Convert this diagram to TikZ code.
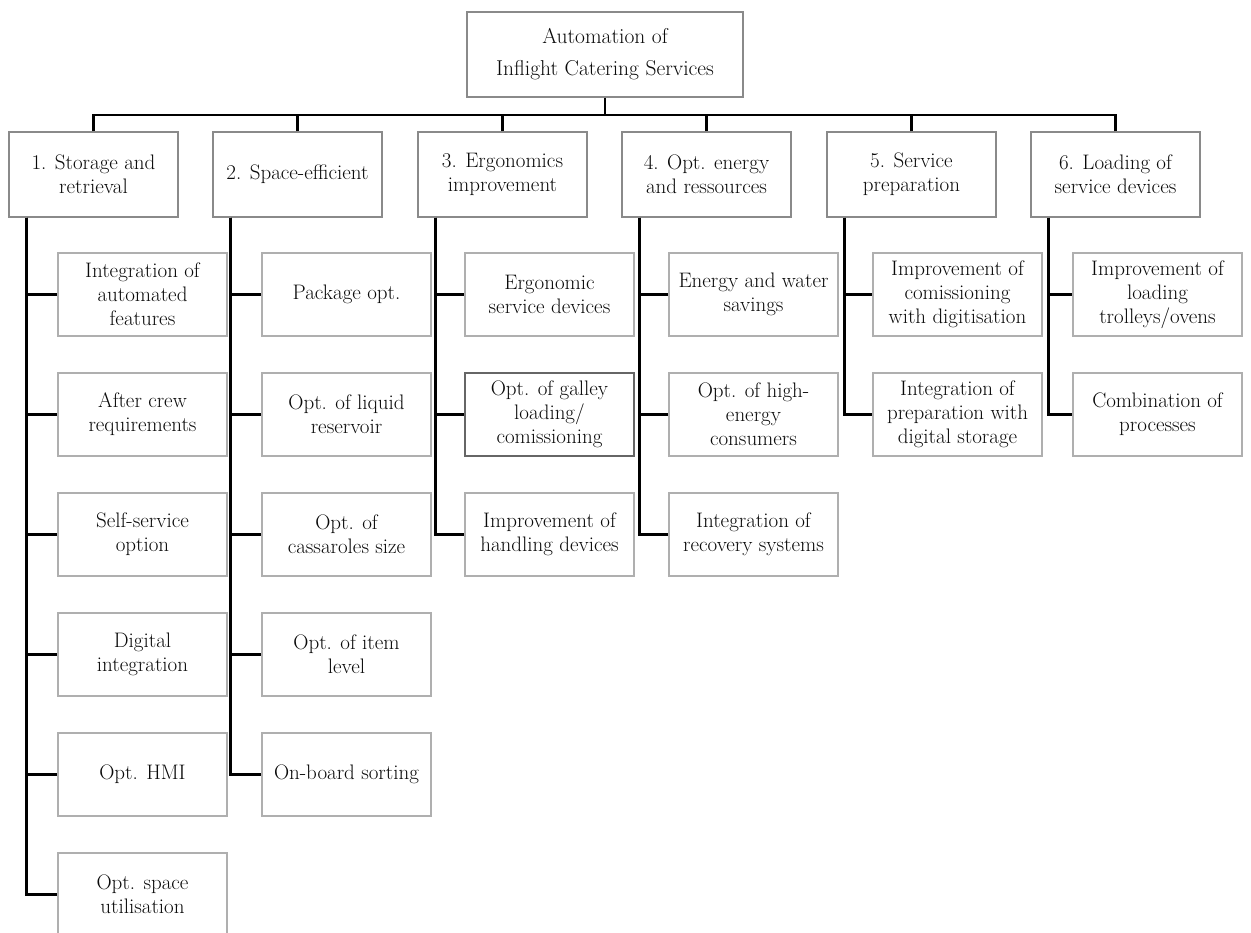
\documentclass[tikz,border=0pt]{standalone}
\usetikzlibrary{calc}
\definecolor{frameA}{HTML}{8A8A8A}
\definecolor{frameB}{HTML}{AFAFAF}
\definecolor{frameC}{HTML}{666666}
\definecolor{ink}{HTML}{0A0A0A}
\begin{document}
\begin{tikzpicture}[x=1pt,y=-1pt,
  every node/.style={text=ink, align=center, inner sep=1pt},
  rootbox/.style={draw=frameA, line width=1.1pt, minimum width=276pt, minimum height=85pt,
    font=\fontsize{21.5}{32}\selectfont},
  headbox/.style={draw=frameA, line width=1.1pt, minimum width=169pt, minimum height=85pt,
    font=\fontsize{21}{24}\selectfont},
  leafbox/.style={draw=frameB, line width=2.6pt, minimum width=169pt, minimum height=83pt,
    font=\fontsize{21}{24}\selectfont},
  darkleaf/.style={leafbox, draw=frameC, line width=1.6pt},
  link/.style={draw=black, line width=2.2pt}]
\clip (0,0) rectangle (1251,933);

% root
\node[rootbox] (root) at (605,54.5) {Automation of\\Inflight Catering Services};
\coordinate (bar) at (605,115);

% first level
\node[headbox] (h1) at (93.5,174.5)  {1. Storage and\\retrieval};
\node[headbox] (h2) at (297.5,174.5) {2. Space-efficient};
\node[headbox] (h3) at (502.5,174.5) {3. Ergonomics\\improvement};
\node[headbox] (h4) at (706.5,174.5) {4. Opt. energy\\and ressources};
\node[headbox] (h5) at (911.5,174.5) {5. Service\\preparation};
\node[headbox] (h6) at (1115.5,174.5){6. Loading of\\service devices};

% column 1
\node[leafbox] (a1) at (142.5,294.5) {Integration of\\automated\\features};
\node[leafbox] (a2) at (142.5,414.5) {After crew\\requirements};
\node[leafbox] (a3) at (142.5,534.5) {Self-service\\option};
\node[leafbox] (a4) at (142.5,654.5) {Digital\\integration};
\node[leafbox] (a5) at (142.5,774.5) {Opt. HMI};
\node[leafbox] (a6) at (142.5,894.5) {Opt. space\\utilisation};

% column 2
\node[leafbox] (b1) at (346.5,294.5) {Package opt.};
\node[leafbox] (b2) at (346.5,414.5) {Opt. of liquid\\reservoir};
\node[leafbox] (b3) at (346.5,534.5) {Opt. of\\cassaroles size};
\node[leafbox] (b4) at (346.5,654.5) {Opt. of item\\level};
\node[leafbox] (b5) at (346.5,774.5) {On-board sorting};

% column 3
\node[leafbox] (c1) at (549.5,294.5) {Ergonomic\\service devices};
\node[darkleaf] (c2) at (549.5,414.5) {Opt. of galley\\loading/\\comissioning};
\node[leafbox] (c3) at (549.5,534.5) {Improvement of\\handling devices};

% column 4
\node[leafbox] (d1) at (753.5,294.5) {Energy and water\\savings};
\node[leafbox] (d2) at (753.5,414.5) {Opt. of high-\\energy\\consumers};
\node[leafbox] (d3) at (753.5,534.5) {Integration of\\recovery systems};

% column 5
\node[leafbox] (e1) at (957.5,294.5) {Improvement of\\comissioning\\with digitisation};
\node[leafbox] (e2) at (957.5,414.5) {Integration of\\preparation with\\digital storage};

% column 6
\node[leafbox] (f1) at (1157.5,294.5) {Improvement of\\loading\\trolleys/ovens};
\node[leafbox] (f2) at (1157.5,414.5) {Combination of\\processes};

% root to first level
\draw[link] (root.south) -- (bar);
\foreach \h in {h1,h2,h3,h4,h5,h6}
  \draw[link] (\h.north) |- (bar);

% spines from each heading to its items
\foreach \h/\items in {h1/{a1,a2,a3,a4,a5,a6}, h2/{b1,b2,b3,b4,b5},
    h3/{c1,c2,c3}, h4/{d1,d2,d3}, h5/{e1,e2}, h6/{f1,f2}} {
  \coordinate (spine) at ($(\h.south west)+(18,0)$);
  \foreach \c in \items
    \draw[link] (spine) |- (\c.west);
}
\end{tikzpicture}
\end{document}
